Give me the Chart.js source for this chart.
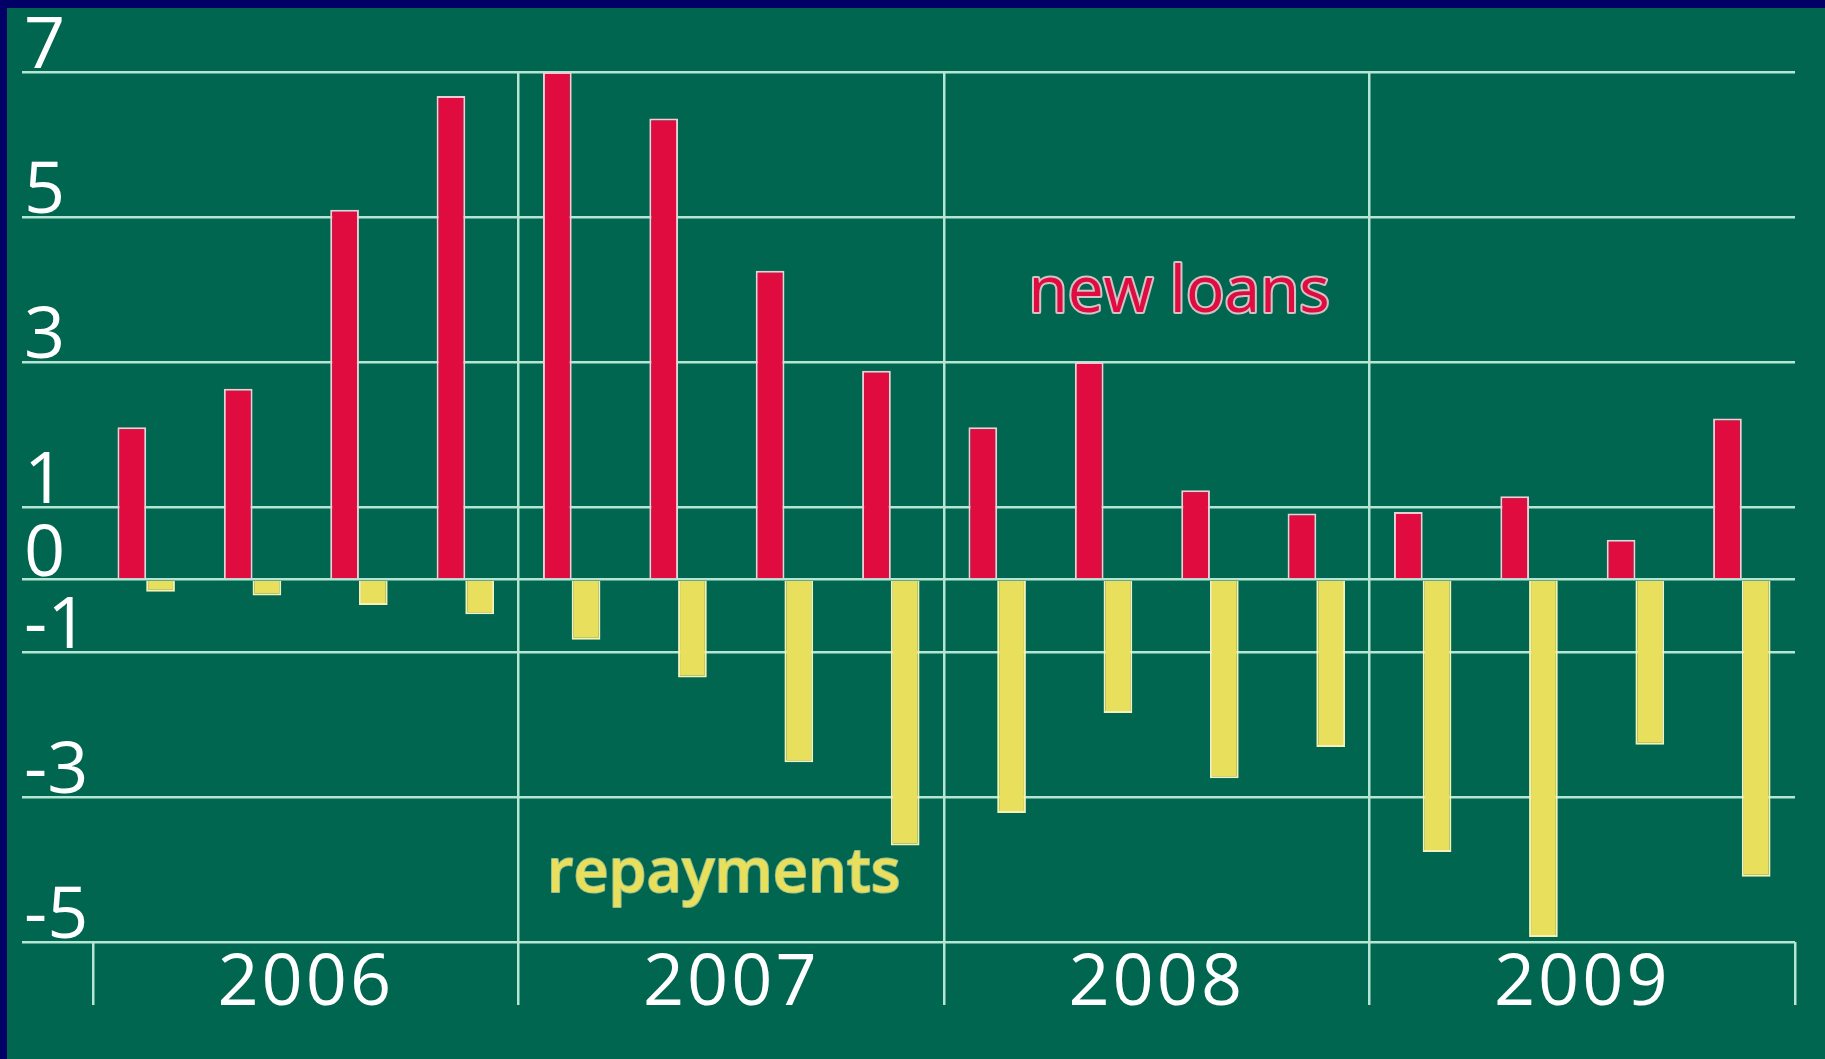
<!DOCTYPE html>
<html>
<head>
<meta charset="utf-8">
<script src="https://cdn.jsdelivr.net/npm/chart.js@4.4.1/dist/chart.umd.min.js"></script>
<style>
  html, body { margin: 0; padding: 0; background: #006650; overflow: hidden; width: 100%; height: 100%; }
  #edge-top { position: absolute; left: 0; top: 0; width: 100%; height: 8px; background: #000066; }
  #edge-left { position: absolute; left: 0; top: 0; width: 7px; height: 100%; background: #000066; }
  #wrap { position: absolute; left: 7px; top: 8px; width: 1818px; height: 1051px; }
</style>
</head>
<body>
<div id="edge-top"></div>
<div id="edge-left"></div>
<div id="wrap"><canvas id="chart"></canvas></div>
<script>
const quarters = [
  'Q1 2006', 'Q2 2006', 'Q3 2006', 'Q4 2006',
  'Q1 2007', 'Q2 2007', 'Q3 2007', 'Q4 2007',
  'Q1 2008', 'Q2 2008', 'Q3 2008', 'Q4 2008',
  'Q1 2009', 'Q2 2009', 'Q3 2009', 'Q4 2009'
];
const years = ['2006', '2007', '2008', '2009'];
const newLoans = [2.10, 2.63, 5.10, 6.67, 7.00, 6.36, 4.26, 2.88, 2.10, 3.00, 1.23, 0.91, 0.93, 1.15, 0.55, 2.22];
const repayments = [-0.17, -0.22, -0.35, -0.48, -0.83, -1.35, -2.52, -3.67, -3.22, -1.84, -2.74, -2.31, -3.76, -4.93, -2.28, -4.10];
const yTicks = [7, 5, 3, 1, 0, -1, -3, -5];

const gridColor = '#b4e6d3';
const red = '#e00c3f';
const yellow = '#e8e05c';

// axis numbers, year labels and the two series names
const textPlugin = {
  id: 'texts',
  afterDraw(chart) {
    const { ctx, scales: { x, y } } = chart;
    ctx.save();
    ctx.fillStyle = '#ffffff';
    ctx.font = '72px "Open Sans"';
    ctx.textAlign = 'left';
    ctx.textBaseline = 'alphabetic';
    yTicks.forEach(v => ctx.fillText(String(v), y.left + 2, y.getPixelForValue(v) - 4));

    ctx.textAlign = 'center';
    ctx.letterSpacing = '3px';
    years.forEach((yr, i) => {
      const cx = (x.getPixelForValue(i * 4 + 1) + x.getPixelForValue(i * 4 + 2)) / 2;
      ctx.fillText(yr, cx, x.bottom);
    });
    ctx.letterSpacing = '0px';

    ctx.font = '64px "Open Sans"';
    ctx.lineJoin = 'round';
    ctx.lineWidth = 4;
    ctx.strokeStyle = 'rgba(245, 210, 218, 0.85)';
    const nx = x.getPixelForValue(9.71), ny = y.getPixelForValue(3.69);
    ctx.strokeText('new loans', nx, ny);
    ctx.fillStyle = red;
    ctx.fillText('new loans', nx, ny);

    ctx.font = '600 61px "Open Sans"';
    ctx.lineWidth = 2;
    ctx.strokeStyle = 'rgba(250, 245, 190, 0.6)';
    const rx = x.getPixelForValue(5.43), ry = y.getPixelForValue(-4.31);
    ctx.strokeText('repayments', rx, ry);
    ctx.fillStyle = yellow;
    ctx.fillText('repayments', rx, ry);
    ctx.restore();
  }
};

new Chart(document.getElementById('chart'), {
  type: 'bar',
  data: {
    labels: quarters,
    datasets: [
      {
        label: 'new loans',
        data: newLoans,
        backgroundColor: red,
        borderColor: '#f3cdd5',
        borderWidth: 2,
        categoryPercentage: 0.54,
        barPercentage: 1.0
      },
      {
        label: 'repayments',
        data: repayments,
        backgroundColor: yellow,
        borderColor: '#f6f1b8',
        borderWidth: 2,
        categoryPercentage: 0.54,
        barPercentage: 1.0
      }
    ]
  },
  options: {
    responsive: true,
    maintainAspectRatio: false,
    devicePixelRatio: 1,
    animation: false,
    layout: { padding: { left: 15, right: 30, top: 64, bottom: 54 } },
    plugins: {
      legend: { display: false },
      tooltip: { enabled: false }
    },
    scales: {
      x: {
        offset: true,
        grid: {
          offset: true,
          lineWidth: 2.5,
          tickWidth: 2.5,
          tickLength: 63,
          color: ctx => (ctx.index % 4 === 0 && ctx.index > 0) ? gridColor : 'transparent',
          tickColor: ctx => (ctx.index === undefined || ctx.index % 4 === 0) ? gridColor : 'transparent'
        },
        border: { display: false },
        ticks: { display: false },
        afterFit: s => { s.height = 63; }
      },
      y: {
        min: -5,
        max: 7,
        afterBuildTicks: s => { s.ticks = yTicks.map(v => ({ value: v })); },
        grid: {
          color: gridColor,
          lineWidth: 2.5,
          tickColor: gridColor,
          tickWidth: 2.5,
          tickLength: 71
        },
        border: { display: false },
        ticks: { display: false },
        afterFit: s => { s.width = 71; }
      }
    }
  },
  plugins: [textPlugin]
});
</script>
</body>
</html>
